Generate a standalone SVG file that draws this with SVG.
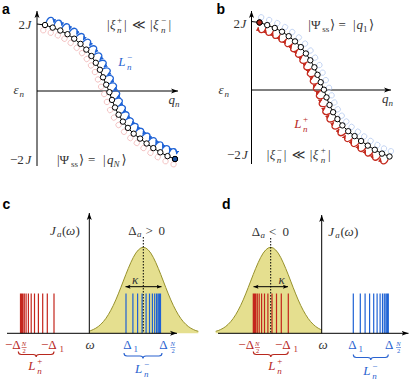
<svg xmlns="http://www.w3.org/2000/svg" width="415" height="383" viewBox="0 0 415 383">
<style>
.lbl{font-family:"Liberation Sans","DejaVu Sans",sans-serif;font-weight:bold;font-size:14px;fill:#000}
.m{font-family:"Liberation Serif","DejaVu Serif","DejaVu Sans",serif;font-size:13px;fill:#333}
.i{font-style:italic}
.s{font-size:9px}
.t{font-size:6.5px}
.ax{stroke:#000;stroke-width:1;fill:none;marker-end:url(#axh)}
.cl{stroke:#000;stroke-width:1;fill:none}
.dot{fill:#fff;stroke:#000;stroke-width:1}
.shA{fill:none;stroke:#f1bcbc;stroke-width:0.8}
.shB{fill:none;stroke:#bdd0f1;stroke-width:0.8}
.hopA{fill:none;stroke:#1f63d6;stroke-width:1.3;marker-end:url(#mB)}
.hopB{fill:none;stroke:#c42a1e;stroke-width:1.3;marker-end:url(#mR)}
.red{fill:#b8281e}
.blue{fill:#2a63d0}
.lr{stroke:#c4261d;stroke-width:1.2;fill:none}
.lb{stroke:#1f62d4;stroke-width:1.2;fill:none}
.gf{fill:#e5df8f}
.gc{fill:none;stroke:#96902c;stroke-width:1}
.dash{stroke:#000;stroke-width:1;stroke-dasharray:1.5 1.5}
.kap{stroke:#000;stroke-width:1;marker-start:url(#kh);marker-end:url(#kh)}
.brR{fill:none;stroke:#b8281e;stroke-width:1.1}
.brB{fill:none;stroke:#2a63d0;stroke-width:1.1}
.fbR{stroke:#b8281e;stroke-width:0.6}
.fbB{stroke:#2a63d0;stroke-width:0.6}
</style>
<defs>
<marker id="axh" markerUnits="userSpaceOnUse" markerWidth="8" markerHeight="6" viewBox="0 0 8 6" refX="7" refY="3" orient="auto"><path d="M0,0.5 L7,3 L0,5.5 L1.8,3 Z" fill="#000"/></marker>
<marker id="kh" markerUnits="userSpaceOnUse" markerWidth="6" markerHeight="5" viewBox="0 0 6 5" refX="5" refY="2.5" orient="auto-start-reverse"><path d="M0,0.5 L5,2.5 L0,4.5 L1,2.5 Z" fill="#000"/></marker>
<marker id="mB" markerUnits="userSpaceOnUse" markerWidth="4" markerHeight="4" viewBox="0 0 5 5" refX="4.5" refY="2.5" orient="auto"><path d="M0,0 L5,2.5 L0,5 Z" fill="#1f63d6"/></marker>
<marker id="mR" markerUnits="userSpaceOnUse" markerWidth="4" markerHeight="4" viewBox="0 0 5 5" refX="4.5" refY="2.5" orient="auto"><path d="M0,0 L5,2.5 L0,5 Z" fill="#c42a1e"/></marker>
<g id="segA"><circle class="shA" cx="0" cy="5.5" r="2.7"/><path class="hopA" d="M0.3,-3 C0.3,-10.5 6.5,-11.5 7.8,-5"/></g>
<g id="segB"><circle class="shB" cx="0" cy="-5.5" r="2.7"/><path class="hopB" d="M7.8,3 C7.8,10.5 1.6,11.5 0.3,5"/></g>
<circle id="shdA" class="shA" cx="0" cy="5.5" r="2.7"/>
<circle id="shdB" class="shB" cx="0" cy="-5.5" r="2.7"/>
<g id="chain">
<polyline class="cl" points="37,24 45,25 52.7,27.6 60.3,30.5 67.5,34.2 74.2,38.7 80.5,43.9 86.3,49.6 91.4,56 95.8,62.8 99.9,69.8 103,77.3 106.2,84.7 109.4,92.2 112,99.9 115,107.5 118.6,114.7 122.9,121.6 127.9,127.9 133.7,133.7 140.1,138.6 146.6,143.5 153.3,148.1 160.3,152.3 167.5,156.1 175,159"/>
<circle class="dot" cx="45" cy="25" r="2.7"/><circle class="dot" cx="52.7" cy="27.6" r="2.7"/><circle class="dot" cx="60.3" cy="30.5" r="2.7"/><circle class="dot" cx="67.5" cy="34.2" r="2.7"/><circle class="dot" cx="74.2" cy="38.7" r="2.7"/><circle class="dot" cx="80.5" cy="43.9" r="2.7"/><circle class="dot" cx="86.3" cy="49.6" r="2.7"/><circle class="dot" cx="91.4" cy="56" r="2.7"/><circle class="dot" cx="95.8" cy="62.8" r="2.7"/><circle class="dot" cx="99.9" cy="69.8" r="2.7"/><circle class="dot" cx="103" cy="77.3" r="2.7"/><circle class="dot" cx="106.2" cy="84.7" r="2.7"/><circle class="dot" cx="109.4" cy="92.2" r="2.7"/><circle class="dot" cx="112" cy="99.9" r="2.7"/><circle class="dot" cx="115" cy="107.5" r="2.7"/><circle class="dot" cx="118.6" cy="114.7" r="2.7"/><circle class="dot" cx="122.9" cy="121.6" r="2.7"/><circle class="dot" cx="127.9" cy="127.9" r="2.7"/><circle class="dot" cx="133.7" cy="133.7" r="2.7"/><circle class="dot" cx="140.1" cy="138.6" r="2.7"/><circle class="dot" cx="146.6" cy="143.5" r="2.7"/><circle class="dot" cx="153.3" cy="148.1" r="2.7"/><circle class="dot" cx="160.3" cy="152.3" r="2.7"/><circle class="dot" cx="167.5" cy="156.1" r="2.7"/><circle class="dot" cx="175" cy="159" r="2.7"/>
</g>
<path id="gF" d="M-55,0 L-55,-2 L-52.5,-2.7 L-50,-3.8 L-47.5,-5.1 L-45,-6.8 L-42.5,-9 L-40,-11.6 L-37.5,-14.8 L-35,-18.6 L-32.5,-23 L-30,-27.9 L-27.5,-33.4 L-25,-39.4 L-22.5,-45.7 L-20,-52.2 L-17.5,-58.7 L-15,-64.9 L-12.5,-70.7 L-10,-75.9 L-7.5,-80.2 L-5,-83.3 L-2.5,-85.3 L0,-86 L2.5,-85.3 L5,-83.3 L7.5,-80.2 L10,-75.9 L12.5,-70.7 L15,-64.9 L17.5,-58.7 L20,-52.2 L22.5,-45.7 L25,-39.4 L27.5,-33.4 L30,-27.9 L32.5,-23 L35,-18.6 L37.5,-14.8 L40,-11.6 L42.5,-9 L45,-6.8 L47.5,-5.1 L50,-3.8 L52.5,-2.7 L55,-2 L55,0 Z"/>
<path id="gC" d="M-55,-2 L-52.5,-2.7 L-50,-3.8 L-47.5,-5.1 L-45,-6.8 L-42.5,-9 L-40,-11.6 L-37.5,-14.8 L-35,-18.6 L-32.5,-23 L-30,-27.9 L-27.5,-33.4 L-25,-39.4 L-22.5,-45.7 L-20,-52.2 L-17.5,-58.7 L-15,-64.9 L-12.5,-70.7 L-10,-75.9 L-7.5,-80.2 L-5,-83.3 L-2.5,-85.3 L0,-86 L2.5,-85.3 L5,-83.3 L7.5,-80.2 L10,-75.9 L12.5,-70.7 L15,-64.9 L17.5,-58.7 L20,-52.2 L22.5,-45.7 L25,-39.4 L27.5,-33.4 L30,-27.9 L32.5,-23 L35,-18.6 L37.5,-14.8 L40,-11.6 L42.5,-9 L45,-6.8 L47.5,-5.1 L50,-3.8 L52.5,-2.7 L55,-2"/>
<clipPath id="clipC"><rect x="89.3" y="200" width="120" height="140"/></clipPath>
<clipPath id="clipD"><rect x="205" y="200" width="116.7" height="140"/></clipPath>
</defs>

<!-- Panel a -->
<g id="panel-a">
<text class="lbl" x="2" y="13.5">a</text>
<line class="ax" x1="37" y1="166" x2="37" y2="11"/>
<line class="ax" x1="37" y1="91" x2="178" y2="91"/>
<g id="a-hops">
<use href="#segA" transform="translate(45,25) rotate(18)"/>
<use href="#segA" transform="translate(52.7,27.6) rotate(21)"/>
<use href="#segA" transform="translate(60.3,30.5) rotate(27)"/>
<use href="#segA" transform="translate(67.5,34.2) rotate(34)"/>
<use href="#segA" transform="translate(74.2,38.7) rotate(40)"/>
<use href="#segA" transform="translate(80.5,43.9) rotate(44)"/>
<use href="#segA" transform="translate(86.3,49.6) rotate(51)"/>
<use href="#segA" transform="translate(91.4,56) rotate(57)"/>
<use href="#segA" transform="translate(95.8,62.8) rotate(61)"/>
<use href="#segA" transform="translate(99.9,69.8) rotate(66)"/>
<use href="#segA" transform="translate(103,77.3) rotate(67)"/>
<use href="#segA" transform="translate(106.2,84.7) rotate(68)"/>
<use href="#segA" transform="translate(109.4,92.2) rotate(70)"/>
<use href="#segA" transform="translate(112,99.9) rotate(68)"/>
<use href="#segA" transform="translate(115,107.5) rotate(63)"/>
<use href="#segA" transform="translate(118.6,114.7) rotate(58)"/>
<use href="#segA" transform="translate(122.9,121.6) rotate(52)"/>
<use href="#segA" transform="translate(127.9,127.9) rotate(45)"/>
<use href="#segA" transform="translate(133.7,133.7) rotate(38)"/>
<use href="#segA" transform="translate(140.1,138.6) rotate(37)"/>
<use href="#segA" transform="translate(146.6,143.5) rotate(34)"/>
<use href="#segA" transform="translate(153.3,148.1) rotate(31)"/>
<use href="#segA" transform="translate(160.3,152.3) rotate(28)"/>
<use href="#segA" transform="translate(167.5,156.1) rotate(21)"/>
<use href="#shdA" transform="translate(175,159) rotate(15)"/>
</g>
<use href="#chain"/>
<circle cx="175" cy="159" r="2.7" fill="#1c4f9c" stroke="#000" stroke-width="1"/>
<text class="m"><tspan x="18.5" y="29">2</tspan><tspan class="i" x="25.5" y="29">J</tspan></text>
<text class="m"><tspan class="i" x="13.5" y="94">ε</tspan><tspan class="i s" x="19.5" y="97">n</tspan></text>
<text class="m"><tspan x="10" y="163.5">−2</tspan><tspan class="i" x="25.5" y="163.5">J</tspan></text>
<text class="m"><tspan class="i" x="168.5" y="104">q</tspan><tspan class="i s" x="175" y="106.5">n</tspan></text>
<text class="m"><tspan x="107" y="29">|</tspan><tspan class="i" x="110" y="29">ξ</tspan><tspan class="s" x="117" y="23">+</tspan><tspan class="s i" x="117" y="33">n</tspan><tspan x="124" y="29">|</tspan><tspan x="132" y="29">≪</tspan><tspan x="150" y="29">|</tspan><tspan class="i" x="153" y="29">ξ</tspan><tspan class="s" x="161" y="23">−</tspan><tspan class="s i" x="161" y="33">n</tspan><tspan x="168.5" y="29">|</tspan></text>
<text class="m blue"><tspan class="i" x="118.3" y="66">L</tspan><tspan class="s" x="127" y="60">−</tspan><tspan class="s i" x="127" y="69.5">n</tspan></text>
<text class="m"><tspan x="57" y="164">|Ψ</tspan><tspan class="s" x="71" y="167">ss</tspan><tspan x="79" y="164">⟩</tspan><tspan x="88" y="164">=</tspan><tspan x="103" y="164">|</tspan><tspan class="i" x="107" y="164">q</tspan><tspan class="s i" x="113.5" y="167">N</tspan><tspan x="121.5" y="164">⟩</tspan></text>
</g>

<!-- Panel b -->
<g id="panel-b">
<text class="lbl" x="216.5" y="13.5">b</text>
<line class="ax" x1="251.5" y1="164" x2="251.5" y2="11"/>
<line class="ax" x1="251.5" y1="90" x2="391" y2="90"/>
<g transform="translate(214.5,-2.5)">
<g id="b-hops">
<use href="#segB" transform="translate(45,25) rotate(18)"/>
<use href="#segB" transform="translate(52.7,27.6) rotate(21)"/>
<use href="#segB" transform="translate(60.3,30.5) rotate(27)"/>
<use href="#segB" transform="translate(67.5,34.2) rotate(34)"/>
<use href="#segB" transform="translate(74.2,38.7) rotate(40)"/>
<use href="#segB" transform="translate(80.5,43.9) rotate(44)"/>
<use href="#segB" transform="translate(86.3,49.6) rotate(51)"/>
<use href="#segB" transform="translate(91.4,56) rotate(57)"/>
<use href="#segB" transform="translate(95.8,62.8) rotate(61)"/>
<use href="#segB" transform="translate(99.9,69.8) rotate(66)"/>
<use href="#segB" transform="translate(103,77.3) rotate(67)"/>
<use href="#segB" transform="translate(106.2,84.7) rotate(68)"/>
<use href="#segB" transform="translate(109.4,92.2) rotate(70)"/>
<use href="#segB" transform="translate(112,99.9) rotate(68)"/>
<use href="#segB" transform="translate(115,107.5) rotate(63)"/>
<use href="#segB" transform="translate(118.6,114.7) rotate(58)"/>
<use href="#segB" transform="translate(122.9,121.6) rotate(52)"/>
<use href="#segB" transform="translate(127.9,127.9) rotate(45)"/>
<use href="#segB" transform="translate(133.7,133.7) rotate(38)"/>
<use href="#segB" transform="translate(140.1,138.6) rotate(37)"/>
<use href="#segB" transform="translate(146.6,143.5) rotate(34)"/>
<use href="#segB" transform="translate(153.3,148.1) rotate(31)"/>
<use href="#segB" transform="translate(160.3,152.3) rotate(28)"/>
<use href="#segB" transform="translate(167.5,156.1) rotate(21)"/>
<use href="#shdB" transform="translate(175,159) rotate(15)"/>
</g>
<use href="#chain"/>
<circle cx="45" cy="25" r="2.7" fill="#b5281c" stroke="#000" stroke-width="1"/>
</g>
<text class="m"><tspan x="233.5" y="28">2</tspan><tspan class="i" x="240.5" y="28">J</tspan></text>
<text class="m"><tspan class="i" x="218.5" y="93.5">ε</tspan><tspan class="i s" x="224.5" y="96.5">n</tspan></text>
<text class="m"><tspan class="i" x="382" y="103">q</tspan><tspan class="i s" x="388.5" y="105.5">n</tspan></text>
<text class="m"><tspan x="308.3" y="29">|Ψ</tspan><tspan class="s" x="322.3" y="32">ss</tspan><tspan x="330" y="29">⟩</tspan><tspan x="338.5" y="29">=</tspan><tspan x="353" y="29">|</tspan><tspan class="i" x="356.5" y="29">q</tspan><tspan class="s" x="363" y="32">1</tspan><tspan x="369" y="29">⟩</tspan></text>
<text class="m red"><tspan class="i" x="294.3" y="128">L</tspan><tspan class="s" x="303" y="122">+</tspan><tspan class="s i" x="303" y="131.5">n</tspan></text>
<text class="m"><tspan x="227" y="159">−2</tspan><tspan class="i" x="242" y="159">J</tspan></text>
<text class="m"><tspan x="266.7" y="159">|</tspan><tspan class="i" x="269.7" y="159">ξ</tspan><tspan class="s" x="276.7" y="153">−</tspan><tspan class="s i" x="276.7" y="163">n</tspan><tspan x="283.7" y="159">|</tspan><tspan x="291.7" y="159">≪</tspan><tspan x="309.7" y="159">|</tspan><tspan class="i" x="312.7" y="159">ξ</tspan><tspan class="s" x="320.7" y="153">+</tspan><tspan class="s i" x="320.7" y="163">n</tspan><tspan x="328" y="159">|</tspan></text>
</g>

<!-- Panel c -->
<g id="panel-c">
<text class="lbl" x="2.5" y="208.5">c</text>
<g clip-path="url(#clipC)">
<use href="#gF" class="gf" transform="translate(143.3,333.3)"/>
<use href="#gC" class="gc" transform="translate(143.3,333.3)"/>
</g>
<path class="lr" d="M20.5,293.5V333.3M21.6,293.5V333.3M22.8,293.5V333.3M24.3,293.5V333.3M26.1,293.5V333.3M28.4,293.5V333.3M31.2,293.5V333.3M34.5,293.5V333.3M38.4,293.5V333.3M42.7,293.5V333.3M47.3,293.5V333.3M54,293.5V333.3"/>
<path class="lb" d="M126,293.5V333.3M132.9,293.5V333.3M137.6,293.5V333.3M142.1,293.5V333.3M146.1,293.5V333.3M149.5,293.5V333.3M152.4,293.5V333.3M154.7,293.5V333.3M156.6,293.5V333.3M158.1,293.5V333.3M159.4,293.5V333.3M160.5,293.5V333.3"/>
<line class="dash" x1="143.3" y1="237" x2="143.3" y2="333"/>
<line class="kap" x1="125.5" y1="286.7" x2="161.5" y2="286.7"/>
<line class="ax" x1="7" y1="333.3" x2="177" y2="333.3"/>
<line class="ax" x1="89.3" y1="333.3" x2="89.3" y2="213"/>
<text class="m"><tspan class="i" x="50" y="234.5">J</tspan><tspan class="s i" x="57" y="237">a</tspan><tspan x="62" y="234.5">(</tspan><tspan class="i" x="66" y="234.5">ω</tspan><tspan x="75.5" y="234.5">)</tspan></text>
<text class="m"><tspan x="128.3" y="234.5">Δ</tspan><tspan class="s i" x="137" y="237">a</tspan><tspan x="145.5" y="234.5">&gt;</tspan><tspan x="158.5" y="234.5">0</tspan></text>
<text class="m i" x="132" y="284">κ</text>
<text class="m i" x="85.5" y="348.5">ω</text>
<text class="m red"><tspan x="5" y="349">−Δ</tspan><tspan class="t i" x="21.8" y="345.8">N</tspan><tspan class="t" x="22.6" y="352.6">2</tspan><tspan x="41" y="349">−Δ</tspan><tspan class="s" x="59.5" y="352">1</tspan></text>
<line class="fbR" x1="21.6" y1="347.5" x2="26.6" y2="347.5"/>
<text class="m blue"><tspan x="123.3" y="349">Δ</tspan><tspan class="s" x="133.5" y="352">1</tspan><tspan x="159.3" y="349">Δ</tspan><tspan class="t i" x="170.6" y="345.8">N</tspan><tspan class="t" x="171.4" y="352.6">2</tspan></text>
<line class="fbB" x1="170.4" y1="347.5" x2="175.4" y2="347.5"/>
<path class="brR" d="M18.3,351.5 Q18.3,354.5 21.3,354.5 L33.2,354.5 Q36.2,354.5 36.2,357 Q36.2,354.5 39.2,354.5 L51,354.5 Q54,354.5 54,351.5"/>
<path class="brB" d="M124,353 Q124,356 127,356 L140,356 Q143,356 143,358.5 Q143,356 146,356 L159,356 Q162,356 162,353"/>
<text class="m red"><tspan class="i" x="28.3" y="370">L</tspan><tspan class="s" x="37.3" y="364">+</tspan><tspan class="s i" x="37.3" y="373.5">n</tspan></text>
<text class="m blue"><tspan class="i" x="135" y="373">L</tspan><tspan class="s" x="144" y="366.5">−</tspan><tspan class="s i" x="144" y="376.5">n</tspan></text>
</g>

<!-- Panel d -->
<g id="panel-d">
<text class="lbl" x="222" y="209">d</text>
<g clip-path="url(#clipD)">
<use href="#gF" class="gf" transform="translate(270.7,333.3)"/>
<use href="#gC" class="gc" transform="translate(270.7,333.3)"/>
</g>
<path class="lr" d="M253.3,293.5V333.3M254.5,293.5V333.3M255.7,293.5V333.3M257.3,293.5V333.3M259.2,293.5V333.3M261.6,293.5V333.3M264.5,293.5V333.3M267.9,293.5V333.3M272,293.5V333.3M276.5,293.5V333.3M281.3,293.5V333.3M288.3,293.5V333.3"/>
<path class="lb" d="M353.3,293.5V333.3M360.3,293.5V333.3M365.1,293.5V333.3M369.6,293.5V333.3M373.7,293.5V333.3M377.1,293.5V333.3M380.1,293.5V333.3M382.5,293.5V333.3M384.3,293.5V333.3M385.9,293.5V333.3M387.2,293.5V333.3M388.3,293.5V333.3"/>
<line class="dash" x1="270.7" y1="238" x2="270.7" y2="333"/>
<line class="kap" x1="253.5" y1="286.7" x2="288" y2="286.7"/>
<line class="ax" x1="218" y1="333.3" x2="408.5" y2="333.3"/>
<line class="ax" x1="321.7" y1="333.3" x2="321.7" y2="215"/>
<text class="m"><tspan x="251.7" y="235.5">Δ</tspan><tspan class="s i" x="260.5" y="238">a</tspan><tspan x="269" y="235.5">&lt;</tspan><tspan x="282.5" y="235.5">0</tspan></text>
<text class="m"><tspan class="i" x="328.3" y="235.5">J</tspan><tspan class="s i" x="335.3" y="238">a</tspan><tspan x="340.5" y="235.5">(</tspan><tspan class="i" x="344.5" y="235.5">ω</tspan><tspan x="354" y="235.5">)</tspan></text>
<text class="m i" x="278.5" y="284">κ</text>
<text class="m i" x="318.5" y="348.5">ω</text>
<text class="m red"><tspan x="238.3" y="349">−Δ</tspan><tspan class="t i" x="255.1" y="345.8">N</tspan><tspan class="t" x="255.9" y="352.6">2</tspan><tspan x="275" y="349">−Δ</tspan><tspan class="s" x="293.5" y="352">1</tspan></text>
<line class="fbR" x1="254.9" y1="347.5" x2="259.9" y2="347.5"/>
<text class="m blue"><tspan x="348.3" y="349">Δ</tspan><tspan class="s" x="358.5" y="352">1</tspan><tspan x="385" y="349">Δ</tspan><tspan class="t i" x="396.2" y="345.8">N</tspan><tspan class="t" x="397" y="352.6">2</tspan></text>
<line class="fbB" x1="396" y1="347.5" x2="401" y2="347.5"/>
<path class="brR" d="M253.3,351.5 Q253.3,354.5 256.3,354.5 L267.8,354.5 Q270.8,354.5 270.8,357 Q270.8,354.5 273.8,354.5 L285.3,354.5 Q288.3,354.5 288.3,351.5"/>
<path class="brB" d="M353.3,354.5 Q353.3,357.5 356.3,357.5 L367.8,357.5 Q370.8,357.5 370.8,360 Q370.8,357.5 373.8,357.5 L385.3,357.5 Q388.3,357.5 388.3,354.5"/>
<text class="m red"><tspan class="i" x="268.3" y="370">L</tspan><tspan class="s" x="277.3" y="364">+</tspan><tspan class="s i" x="277.3" y="373.5">n</tspan></text>
<text class="m blue"><tspan class="i" x="363.3" y="375">L</tspan><tspan class="s" x="372.3" y="368.5">−</tspan><tspan class="s i" x="372.3" y="378.5">n</tspan></text>
</g>
</svg>
